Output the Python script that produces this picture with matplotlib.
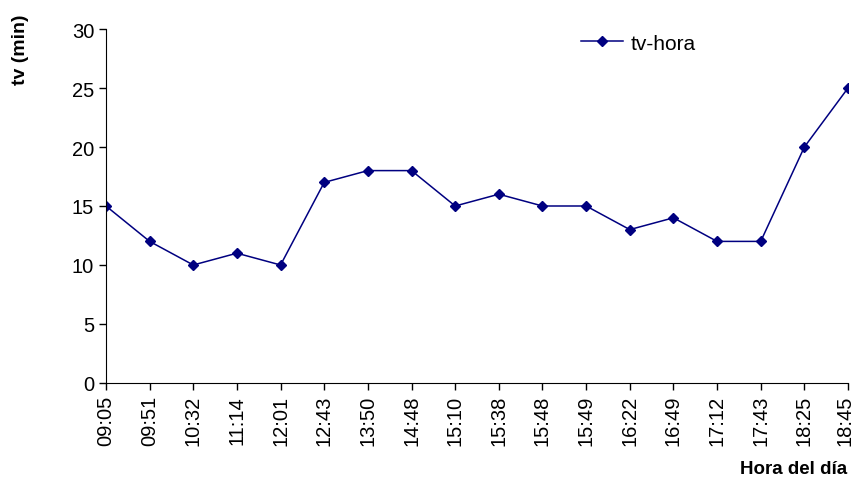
import matplotlib
matplotlib.use("Agg")
import matplotlib.pyplot as plt
import matplotlib.transforms as mtransforms

horas = ["09:05", "09:51", "10:32", "11:14", "12:01", "12:43", "13:50", "14:48",
         "15:10", "15:38", "15:48", "15:49", "16:22", "16:49", "17:12", "17:43",
         "18:25", "18:45"]
tv = [15, 12, 10, 11, 10, 17, 18, 18, 15, 16, 15, 15, 13, 14, 12, 12, 20, 25]

plt.rcParams['font.family'] = ['Liberation Sans', 'DejaVu Sans']

fig = plt.figure(figsize=(8.54, 4.81), dpi=100)
ax = fig.add_axes([0.1241, 0.2017, 0.993 - 0.1241, 0.9376 - 0.2017])

x = list(range(len(horas)))
ax.plot(x, tv, color='#000080', lw=1.1, marker='D', markersize=5.5, label='tv-hora')

ax.set_xlim(0, len(horas) - 1)
ax.set_ylim(0, 30)
ax.set_yticks([0, 5, 10, 15, 20, 25, 30])
ax.set_xticks(x)
ax.set_xticklabels(horas, rotation=90)
ax.tick_params(direction='out', length=5, width=1, labelsize=14.5, colors='black')
ax.spines['top'].set_visible(False)
ax.spines['right'].set_visible(False)

# keep the last label inside the picture
last = ax.get_xticklabels()[-1]
last.set_transform(last.get_transform() +
                   mtransforms.ScaledTranslation(-3 / 100, 0, fig.dpi_scale_trans))

fig.text(0.024, 0.896, 'tv (min)', rotation=90, fontsize=14, fontweight='bold',
         ha='center', va='center')
fig.text(0.992, 0.023, 'Hora del día', fontsize=13.5, fontweight='bold',
         ha='right', va='center')

ax.legend(loc='upper left', bbox_to_anchor=(0.615, 1.04), frameon=False,
          fontsize=15, handlelength=2.0, handletextpad=0.4)

fig.savefig('out.png', dpi=100)
